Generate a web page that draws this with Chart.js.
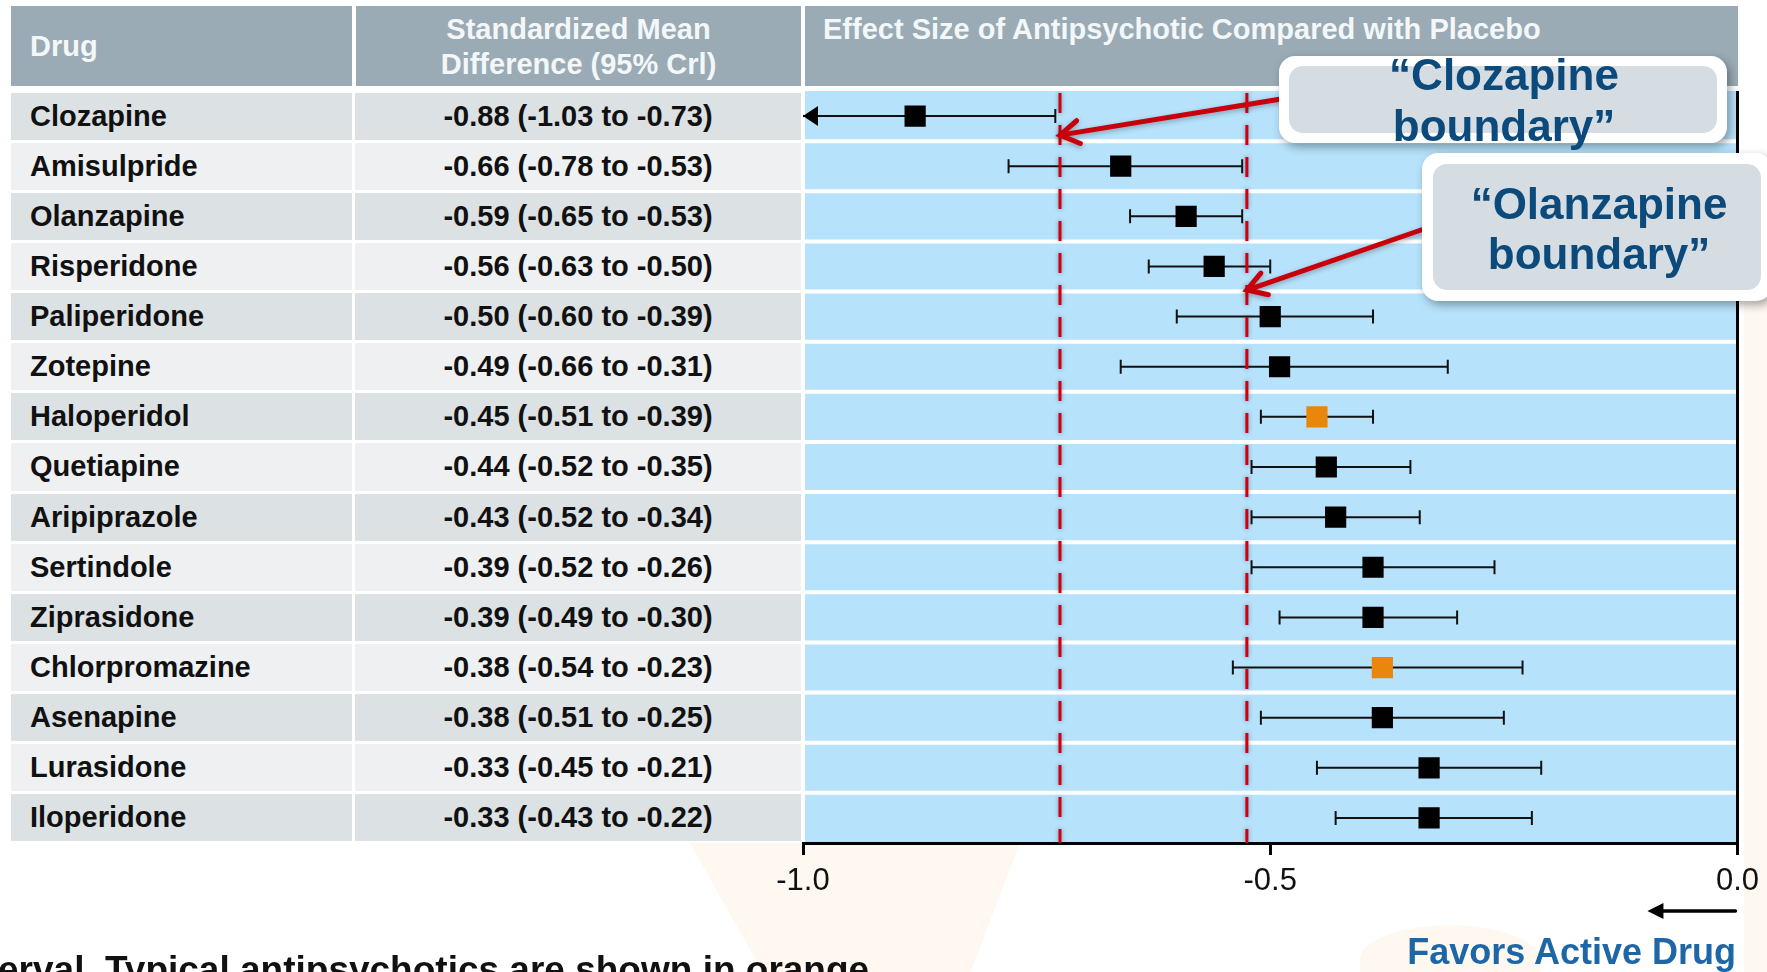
<!DOCTYPE html>
<html>
<head>
<meta charset="utf-8">
<script src="https://cdn.jsdelivr.net/npm/chart.js@4.4.1/dist/chart.umd.min.js"></script>
<style>
  html, body { margin: 0; padding: 0; background: #fff; overflow: hidden; }
  body { width: 1767px; height: 972px; position: relative; font-family: "Liberation Sans", Arial, Helvetica, sans-serif; }
  .tint { position: absolute; background: #fff8f1; }
  .hdr { position: absolute; top: 6px; height: 80px; background: #9aabb6; color: #f4f7f8; font-weight: bold; font-size: 29px; box-sizing: border-box; }
  .cell { position: absolute; font-weight: bold; font-size: 29px; color: #111; white-space: nowrap; box-sizing: border-box; }
  #chartBox { position: absolute; left: 0; top: 0; width: 1767px; height: 972px; z-index: 2; }
  .favors { position: absolute; right: 31px; top: 934px; font-size: 36px; line-height: 36px; font-weight: bold; color: #1d67a6; z-index: 3; }
  .note { position: absolute; left: -2px; top: 951px; font-size: 37px; line-height: 37px; font-weight: bold; color: #111; white-space: nowrap; z-index: 3; }
</style>
</head>
<body>
<div class="tint" style="left:690px;top:843px;width:330px;height:129px;clip-path:polygon(0 0,100% 0,85% 100%,22% 100%);"></div>
<div class="tint" style="left:1360px;top:925px;width:180px;height:70px;border-radius:50% 50% 0 0;"></div>
<div class="tint" style="left:1744px;top:300px;width:23px;height:672px;"></div>

<div class="hdr" style="left:11px;width:341px;line-height:80px;padding-left:19px;">Drug</div>
<div class="hdr" style="left:356px;width:445px;text-align:center;line-height:35px;padding-top:6px;">Standardized Mean<br>Difference (95% Crl)</div>
<div class="hdr" style="left:805px;width:933px;line-height:35px;padding-top:6px;padding-left:18px;">Effect Size of Antipsychotic Compared with Placebo</div>

<div id="rows"></div>

<div id="chartBox"><canvas id="forest" width="1767" height="972"></canvas></div>

<div class="favors">Favors Active Drug</div>
<div class="note">erval. Typical antipsychotics are shown in orange</div>

<script>
// data
const drugs = ["Clozapine", "Amisulpride", "Olanzapine", "Risperidone", "Paliperidone", "Zotepine", "Haloperidol",
  "Quetiapine", "Aripiprazole", "Sertindole", "Ziprasidone", "Chlorpromazine", "Asenapine", "Lurasidone", "Iloperidone"];
const smd = [-0.88, -0.66, -0.59, -0.56, -0.50, -0.49, -0.45, -0.44, -0.43, -0.39, -0.39, -0.38, -0.38, -0.33, -0.33];
const crLow = [-1.03, -0.78, -0.65, -0.63, -0.60, -0.66, -0.51, -0.52, -0.52, -0.52, -0.49, -0.54, -0.51, -0.45, -0.43];
const crHigh = [-0.73, -0.53, -0.53, -0.50, -0.39, -0.31, -0.39, -0.35, -0.34, -0.26, -0.30, -0.23, -0.25, -0.21, -0.22];
const typical = ["Haloperidol", "Chlorpromazine"]; // drawn in orange
const xTicks = [-1.0, -0.5, 0.0];
const boundaries = [-0.725, -0.525]; // dashed lines (clozapine / olanzapine)

// layout
const ROW_TOP = 91, ROW_BOTTOM = 843;
const ROW_H = (ROW_BOTTOM - ROW_TOP) / drugs.length;
const FONT = '"Liberation Sans", Arial, Helvetica, sans-serif';

// table on the left
const rows = document.getElementById("rows");
drugs.forEach((drug, i) => {
  const top = ROW_TOP + i * ROW_H + 1.5;
  const h = ROW_H - 3;
  const bg = i % 2 === 0 ? "#dce1e4" : "#eef0f2";
  const name = document.createElement("div");
  name.className = "cell";
  name.style.cssText = `left:11px;top:${top}px;width:341px;height:${h}px;line-height:${h}px;background:${bg};padding-left:19px;`;
  name.textContent = drug;
  const ci = document.createElement("div");
  ci.className = "cell";
  ci.style.cssText = `left:355px;top:${top}px;width:446px;height:${h}px;line-height:${h}px;background:${bg};text-align:center;`;
  ci.textContent = `${smd[i].toFixed(2)} (${crLow[i].toFixed(2)} to ${crHigh[i].toFixed(2)})`;
  rows.appendChild(name);
  rows.appendChild(ci);
});

// callout boxes (pixels) and where their arrows point (data)
const callouts = [
  { lines: ["\u201CClozapine", "boundary\u201D"], x: 1279, y: 56, w: 448, h: 87, inset: 10, cx: 1504, base: [90, 141], size: 44,
    tail: [1281, 99], tip: [boundaries[0], 0.38] },
  { lines: ["\u201COlanzapine", "boundary\u201D"], x: 1422, y: 153, w: 350, h: 148, inset: 11, cx: 1599, base: [219, 269], size: 44,
    tail: [1424, 229], tip: [boundaries[1], 3.47] },
];

function roundRect(ctx, x, y, w, h, r) {
  ctx.beginPath();
  ctx.moveTo(x + r, y);
  ctx.arcTo(x + w, y, x + w, y + h, r);
  ctx.arcTo(x + w, y + h, x, y + h, r);
  ctx.arcTo(x, y + h, x, y, r);
  ctx.arcTo(x, y, x + w, y, r);
  ctx.closePath();
}

const forestPlugin = {
  id: "forest",
  beforeDraw(chart) {
    const { ctx, chartArea: a, scales: { y } } = chart;
    ctx.save();
    ctx.fillStyle = "#b6e2fc";
    ctx.fillRect(a.left + 2, a.top, a.right - a.left - 2, a.bottom - a.top);
    ctx.strokeStyle = "#ffffff";
    ctx.lineWidth = 4;
    for (let i = 0; i < drugs.length - 1; i++) {
      const py = y.getPixelForValue(i + 0.5);
      ctx.beginPath();
      ctx.moveTo(a.left, py);
      ctx.lineTo(a.right, py);
      ctx.stroke();
    }
    ctx.restore();
  },
  afterDatasetsDraw(chart) {
    const { ctx, chartArea: a, scales: { x, y } } = chart;
    ctx.save();

    // arrowheads where the interval runs off the axis
    crLow.forEach((lo, i) => {
      if (lo < x.min) {
        const py = y.getPixelForValue(i);
        ctx.fillStyle = "#000";
        ctx.beginPath();
        ctx.moveTo(a.left, py);
        ctx.lineTo(a.left + 15, py - 10);
        ctx.lineTo(a.left + 15, py + 10);
        ctx.closePath();
        ctx.fill();
      }
    });

    // dashed boundary lines
    ctx.strokeStyle = "#cc0010";
    ctx.lineWidth = 3;
    ctx.setLineDash([20, 12]);
    ctx.shadowColor = "rgba(40,40,40,0.45)";
    ctx.shadowBlur = 4;
    boundaries.forEach(b => {
      const px = x.getPixelForValue(b);
      ctx.beginPath();
      ctx.moveTo(px, a.top + 2);
      ctx.lineTo(px, a.bottom);
      ctx.stroke();
    });
    ctx.setLineDash([]);

    // red arrows to the boundaries
    ctx.strokeStyle = "#c8000c";
    ctx.lineWidth = 5;
    ctx.lineCap = "round";
    ctx.shadowColor = "rgba(40,40,40,0.35)";
    ctx.shadowBlur = 5;
    ctx.shadowOffsetY = 2;
    callouts.forEach(c => {
      const tx = x.getPixelForValue(c.tip[0]), ty = y.getPixelForValue(c.tip[1]);
      const [sx, sy] = c.tail;
      const ang = Math.atan2(ty - sy, tx - sx);
      ctx.beginPath();
      ctx.moveTo(sx, sy);
      ctx.lineTo(tx, ty);
      ctx.moveTo(tx - 22 * Math.cos(ang - 0.55), ty - 22 * Math.sin(ang - 0.55));
      ctx.lineTo(tx, ty);
      ctx.lineTo(tx - 22 * Math.cos(ang + 0.55), ty - 22 * Math.sin(ang + 0.55));
      ctx.stroke();
    });

    // callout boxes
    callouts.forEach(c => {
      ctx.shadowColor = "rgba(0,0,0,0.35)";
      ctx.shadowBlur = 10;
      ctx.shadowOffsetX = 3;
      ctx.shadowOffsetY = 4;
      ctx.fillStyle = "#ffffff";
      roundRect(ctx, c.x, c.y, c.w, c.h, 16);
      ctx.fill();
      ctx.shadowColor = "transparent";
      ctx.fillStyle = "#d5dde3";
      roundRect(ctx, c.x + c.inset, c.y + c.inset, c.w - 2 * c.inset, c.h - 2 * c.inset, 14);
      ctx.fill();
      ctx.fillStyle = "#0c4a7b";
      ctx.font = `bold ${c.size}px ${FONT}`;
      ctx.textAlign = "center";
      ctx.textBaseline = "alphabetic";
      c.lines.forEach((t, k) => ctx.fillText(t, c.cx, c.base[k]));
    });

    // "favors active drug" arrow under the axis
    ctx.shadowColor = "transparent";
    const ay = a.bottom + 68;
    ctx.strokeStyle = "#000";
    ctx.lineWidth = 3.5;
    ctx.beginPath();
    ctx.moveTo(a.right - 2, ay);
    ctx.lineTo(a.right - 75, ay);
    ctx.stroke();
    ctx.fillStyle = "#000";
    ctx.beginPath();
    ctx.moveTo(a.right - 90, ay);
    ctx.lineTo(a.right - 74, ay - 8);
    ctx.lineTo(a.right - 74, ay + 8);
    ctx.closePath();
    ctx.fill();
    ctx.restore();
  },
};

// one line dataset per interval, with end caps
const ciSets = drugs.map((d, i) => ({
  type: "scatter",
  showLine: true,
  data: [{ x: crLow[i], y: i }, { x: crHigh[i], y: i }],
  borderColor: "#111",
  borderWidth: 2,
  pointStyle: "line",
  pointRotation: 90,
  pointRadius: ctx => (ctx.raw && ctx.raw.x < -1 ? 0 : 7),
  pointBorderColor: "#111",
  pointBorderWidth: 2,
  order: 2,
}));

const pointSet = {
  type: "scatter",
  data: drugs.map((d, i) => ({ x: smd[i], y: i })),
  pointStyle: "rect",
  pointRadius: 15,
  pointBackgroundColor: drugs.map(d => (typical.includes(d) ? "#e8870a" : "#000")),
  pointBorderWidth: 0,
  order: 1,
};

new Chart(document.getElementById("forest").getContext("2d"), {
  type: "scatter",
  data: { datasets: [...ciSets, pointSet] },
  options: {
    responsive: false,
    animation: false,
    layout: { padding: { left: 803, right: 29, top: ROW_TOP, bottom: 972 - ROW_BOTTOM - 60 } },
    plugins: {
      legend: { display: false },
      tooltip: { enabled: false },
    },
    scales: {
      x: {
        type: "linear",
        min: -1,
        max: 0,
        afterFit: scale => { scale.height = 60; },
        afterBuildTicks: scale => { scale.ticks = xTicks.map(v => ({ value: v })); },
        ticks: {
          callback: v => v.toFixed(1),
          color: "#111",
          padding: 8,
          font: { family: FONT, size: 31 },
        },
        grid: {
          color: ctx => (ctx.tick && ctx.tick.value === 0 ? "#000" : "transparent"),
          lineWidth: 3,
          tickColor: "#000",
          tickLength: 12,
          tickWidth: 3,
        },
        border: { color: "#000", width: 3 },
      },
      y: {
        type: "linear",
        min: -0.5,
        max: drugs.length - 0.5,
        reverse: true,
        display: false,
      },
    },
  },
  plugins: [forestPlugin],
});
</script>
</body>
</html>
